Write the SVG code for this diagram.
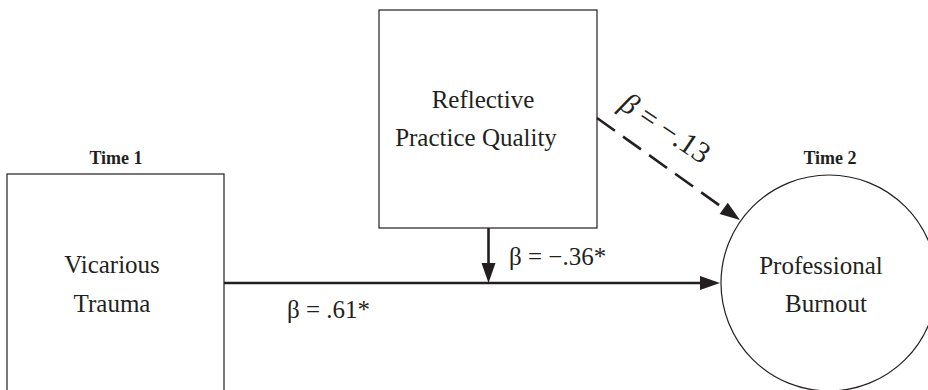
<svg xmlns="http://www.w3.org/2000/svg" width="928" height="390" viewBox="0 0 928 390">
<style>
.box{fill:#fff;stroke:#231f20;stroke-width:1.2}
.t{font-family:"Liberation Serif","Times New Roman",serif;font-size:25px;fill:#231f20;text-anchor:middle}
.hd{font-family:"Liberation Serif","Times New Roman",serif;font-size:18px;font-weight:bold;fill:#231f20;text-anchor:middle}
.lbl{font-family:"Liberation Serif","Times New Roman",serif;font-size:25px;fill:#231f20}
.rot{font-size:30px}
.conn{stroke:#231f20;stroke-width:2.6;fill:none}
.dash{stroke-dasharray:22 10}
</style>
<defs>
<marker id="ah" markerUnits="userSpaceOnUse" markerWidth="20" markerHeight="14" refX="0" refY="7" orient="auto" overflow="visible">
<path d="M0,0 L20,7 L0,14 Z" fill="#231f20"/>
</marker>
</defs>
<rect width="928" height="390" fill="#fff"/>
<g id="vicarious-trauma">
<text class="hd" x="116" y="164">Time 1</text>
<rect class="box" x="7" y="174" width="217" height="230"/>
<text class="t" x="112" y="273">Vicarious</text>
<text class="t" x="112" y="312">Trauma</text>
</g>
<g id="reflective-practice-quality">
<rect class="box" x="379" y="10" width="218" height="218"/>
<text class="t" x="483" y="108">Reflective</text>
<text class="t" x="476" y="146">Practice Quality</text>
</g>
<g id="professional-burnout">
<text class="hd" x="830" y="164">Time 2</text>
<circle class="box" cx="829" cy="283" r="108"/>
<text class="t" x="821" y="274">Professional</text>
<text class="t" x="826" y="312">Burnout</text>
</g>
<g id="connectors">
<line class="conn" x1="224" y1="283" x2="700" y2="283" marker-end="url(#ah)"/>
<line class="conn" x1="488.5" y1="228" x2="488.5" y2="263" marker-end="url(#ah)"/>
<line class="conn dash" x1="597" y1="118" x2="723.7" y2="208.4" marker-end="url(#ah)"/>
<text class="lbl" x="287" y="318">β = .61*</text>
<text class="lbl" x="509" y="265">β = −.36*</text>
<text class="lbl rot" x="618" y="108" transform="rotate(34 618 108)"><tspan font-style="italic">β</tspan> = −.13</text>
</g>
</svg>
